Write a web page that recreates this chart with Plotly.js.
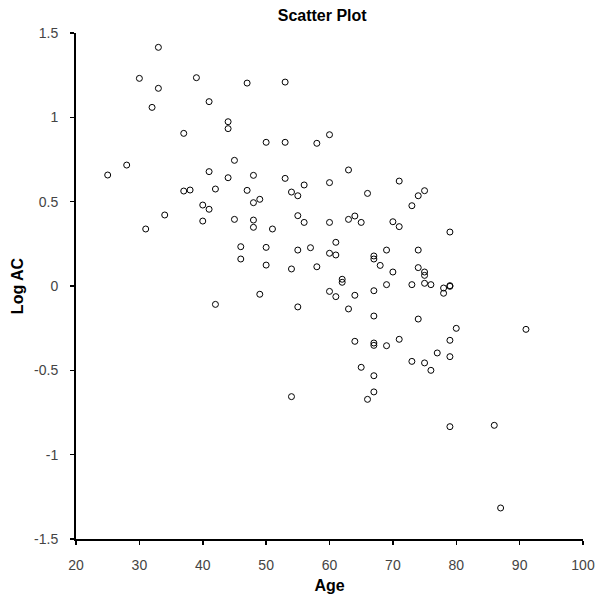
<!DOCTYPE html>
<html>
<head>
<meta charset="utf-8">
<script src="https://cdn.plot.ly/plotly-3.0.1.min.js"></script>
<style>html,body{margin:0;padding:0;background:#fff;}#chart{width:600px;height:600px;}</style>
</head>
<body>
<div id="chart"></div>
<script>
var age = [25,28,30,31,32,33,33,34,37,37,38,39,40,40,41,41,41,42,42,44,44,44,45,45,46,46,47,47,48,48,48,48,49,49,50,50,50,51,53,53,53,54,54,54,55,55,55,55,56,56,57,58,58,60,60,60,60,60,61,61,61,62,62,63,63,63,64,64,64,65,65,66,66,67,67,67,67,67,67,67,67,68,69,69,69,70,70,71,71,71,73,73,73,74,74,74,74,75,75,75,75,75,76,76,77,78,78,79,79,79,79,79,79,80,86,87,91];
var logAC = [0.658,0.717,1.231,0.338,1.059,1.415,1.172,0.421,0.905,0.563,0.569,1.235,0.480,0.385,1.093,0.678,0.455,0.575,-0.109,0.974,0.933,0.642,0.745,0.395,0.233,0.160,1.203,0.567,0.656,0.494,0.391,0.348,0.514,-0.049,0.852,0.229,0.124,0.338,1.209,0.852,0.638,0.557,0.101,-0.656,0.535,0.417,0.213,-0.124,0.599,0.377,0.227,0.846,0.114,0.897,0.613,0.377,0.194,-0.032,0.259,0.184,-0.063,0.040,0.022,0.688,0.395,-0.136,0.415,-0.055,-0.328,0.377,-0.482,0.549,-0.672,0.178,0.160,-0.028,-0.178,-0.338,-0.352,-0.532,-0.628,0.122,0.213,0.008,-0.354,0.381,0.083,0.622,0.352,-0.316,0.476,0.008,-0.447,0.535,0.213,0.109,-0.196,0.565,0.083,0.063,0.016,-0.456,0.008,-0.500,-0.397,-0.012,-0.043,0.320,0.002,-0.002,-0.322,-0.419,-0.834,-0.251,-0.826,-1.316,-0.257];
var xTicks = [20,30,40,50,60,70,80,90,100];
var yTicks = [-1.5,-1,-0.5,0,0.5,1,1.5];
var yTickText = ['-1.5','-1','-0.5','0','0.5','1','1.5'];

var trace = {
  x: age, y: logAC, type: 'scatter', mode: 'markers',
  marker: {symbol: 'circle-open', size: 6, color: '#000', line: {width: 1, color: '#000'}},
  hoverinfo: 'x+y'
};
var layout = {
  width: 600, height: 600,
  margin: {l: 76, r: 17, t: 33, b: 61},
  paper_bgcolor: '#fff', plot_bgcolor: '#fff',
  showlegend: false,
  font: {family: 'Liberation Sans, Arial, sans-serif', size: 14, color: '#333'},
  title: {text: 'Scatter Plot', font: {family: 'Liberation Sans, Arial, sans-serif', size: 16, color: '#000', weight: 'bold'}, xref: 'container', x: 0.537, xanchor: 'center', y: 0.975, yanchor: 'middle'},
  xaxis: {
    range: [20, 100], tickvals: xTicks, ticktext: xTicks.map(String),
    showgrid: false, zeroline: false, showline: true, linecolor: '#000', linewidth: 2,
    ticks: 'outside', ticklen: 4, tickwidth: 1.5, tickcolor: '#000',
    ticklabelstandoff: 8,
    tickfont: {size: 14, color: '#444'},
    title: {text: 'Age', font: {size: 16, color: '#000', weight: 'bold'}, standoff: 8}
  },
  yaxis: {
    range: [-1.5, 1.5], tickvals: yTicks, ticktext: yTickText,
    showgrid: false, zeroline: false, showline: true, linecolor: '#000', linewidth: 2,
    ticks: 'outside', ticklen: 4, tickwidth: 1.5, tickcolor: '#000',
    ticklabelstandoff: 9,
    tickfont: {size: 14, color: '#444'},
    title: {text: 'Log AC', font: {size: 16, color: '#000', weight: 'bold'}, standoff: 6}
  }
};
Plotly.newPlot('chart', [trace], layout, {displayModeBar: false, staticPlot: true});
</script>
</body>
</html>
